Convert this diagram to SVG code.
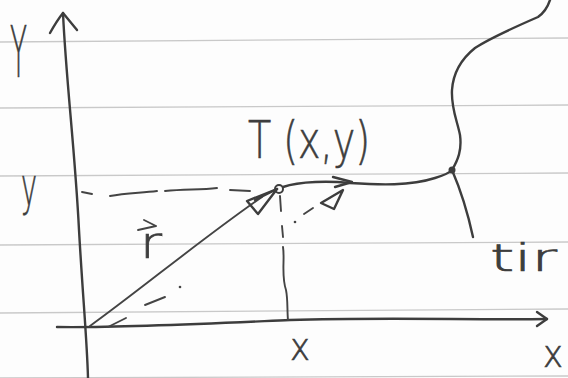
<svg xmlns="http://www.w3.org/2000/svg" width="568" height="378" viewBox="0 0 568 378">
<style>
.rule{stroke:#c9c9c9;stroke-width:1.3;fill:none}
.ink{stroke:#3d3d3d;stroke-width:2.4;fill:none;stroke-linecap:round;stroke-linejoin:round}
.thin{stroke:#444;stroke-width:1.9;fill:none;stroke-linecap:round;stroke-linejoin:round}
.hand{font-family:"DejaVu Sans","Liberation Sans",sans-serif;font-weight:200;fill:#3d3d3d;stroke:#3d3d3d;stroke-width:0.7}
</style>
<rect width="568" height="378" fill="#fdfdfd"/>
<g id="ruled-lines">
<path class="rule" d="M0,42 L568,38"/>
<path class="rule" d="M0,108 L568,105"/>
<path class="rule" d="M0,176 L568,173"/>
<path class="rule" d="M0,245 L568,242"/>
<path class="rule" d="M0,313 L568,309"/>
<path class="rule" d="M0,378 L568,376"/>
</g>
<g id="axis-y">
<path class="ink" d="M63,13 C66,80 75,150 79,230 C83,300 87,340 88,378"/>
<path class="ink" d="M50,33 C55,24 59,18 63,13 L77,30"/>
<text class="hand" x="10" y="77" font-size="72" textLength="17" lengthAdjust="spacingAndGlyphs">Y</text>
</g>
<g id="axis-x">
<path class="ink" d="M57,327 C120,328 200,324 290,320 C380,317 470,320 547,319"/>
<path class="ink" d="M537,312 L547,319 L537,326"/>
<text class="hand" x="543" y="367" font-size="38" textLength="20" lengthAdjust="spacingAndGlyphs">x</text>
</g>
<g id="trajectory">
<path class="ink" d="M283,187 C300,181 330,181 350,183 C380,185 410,186 435,178 C445,175 449,173 452,170 C458,160 462,150 460,135 C457,120 451,108 452,90 C453,75 460,60 475,48 C490,38 515,27 538,17 C545,12 548,6 550,0"/>
<path class="ink" d="M333,177 L352,182 L335,187"/>
<circle cx="452" cy="170" r="3.5" fill="#3d3d3d"/>
<path class="ink" d="M452,170 Q465,200 473,237"/>
<text class="hand" x="490" y="271" font-size="37" textLength="67" lengthAdjust="spacingAndGlyphs">tir</text>
</g>
<g id="point-T">
<circle cx="279" cy="189" r="4" fill="#fdfdfd" stroke="#3d3d3d" stroke-width="2"/>
<text class="hand" x="248" y="158" font-size="52" textLength="122" lengthAdjust="spacingAndGlyphs">T (x,y)</text>
</g>
<g id="connectors">
<g id="projection-y">
<path class="thin" d="M82,192 L92,194"/>
<path class="thin" d="M110,196 C125,193 140,193 157,191"/>
<path class="thin" d="M165,191 C185,189 200,190 217,188"/>
<path class="thin" d="M230,190 L250,191"/>
<text class="hand" x="21" y="205" font-size="53" textLength="16" lengthAdjust="spacingAndGlyphs">y</text>
</g>
<g id="projection-x">
<path class="thin" d="M280,196 L281,211"/>
<path class="thin" d="M282,226 L283,237"/>
<path class="thin" d="M283,247 C285,260 281,275 286,290 C288,300 287,310 288,320"/>
<text class="hand" x="290" y="360" font-size="38" textLength="20" lengthAdjust="spacingAndGlyphs">x</text>
</g>
<g id="vector-r">
<path class="thin" d="M90,326 C140,290 200,240 262,197"/>
<path class="ink" d="M277,189 L247,201 L258,214 Z" fill="#9a9a9a"/>
<path class="ink" d="M277,189 L255,200" stroke-width="4"/>
<text class="hand" x="140" y="258" font-size="44" textLength="22" lengthAdjust="spacingAndGlyphs">r</text>
<path class="thin" d="M138,230 L156,226 M144,220 L156,226"/>
</g>
<g id="vector-r2">
<path class="thin" d="M108,327 L126,318"/>
<path class="thin" d="M145,305 L165,297"/>
<circle cx="180" cy="287" r="1.3" fill="#444"/>
<circle cx="295" cy="222" r="1.3" fill="#444"/>
<path class="thin" d="M304,214 L313,208"/>
<path class="ink" d="M343,190 L321,203 L334,209 Z" fill="#8a8a8a"/>
</g>
</g>
</svg>
